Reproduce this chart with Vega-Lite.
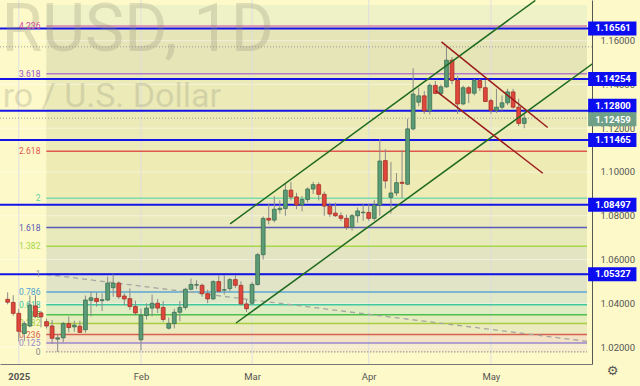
{
  "$schema": "https://vega.github.io/schema/vega-lite/v6.json",
  "width": 592,
  "height": 364,
  "autosize": {"type": "none"},
  "padding": {"left": 0, "top": 0, "right": 48, "bottom": 22},
  "background": "#fdf9c9",
  "config": {"view": {"stroke": null}, "font": "Roboto", "axis": {"grid": false, "ticks": false}},
  "datasets": {
    "candles": [
      {"d": "2024-12-30", "i": -2, "o": 1.0418, "h": 1.0450, "l": 1.0395, "c": 1.0405},
      {"d": "2024-12-31", "i": -1, "o": 1.0404, "h": 1.0437, "l": 1.0343, "c": 1.0354},
      {"d": "2025-01-02", "i": 0, "o": 1.0354, "h": 1.0375, "l": 1.0226, "c": 1.0272},
      {"d": "2025-01-03", "i": 1, "o": 1.0262, "h": 1.0318, "l": 1.0227, "c": 1.0307},
      {"d": "2025-01-06", "i": 2, "o": 1.0296, "h": 1.0436, "l": 1.0290, "c": 1.0392},
      {"d": "2025-01-07", "i": 3, "o": 1.0388, "h": 1.0437, "l": 1.0332, "c": 1.0340},
      {"d": "2025-01-08", "i": 4, "o": 1.0356, "h": 1.0365, "l": 1.0290, "c": 1.0338},
      {"d": "2025-01-09", "i": 5, "o": 1.0316, "h": 1.0330, "l": 1.0285, "c": 1.0296},
      {"d": "2025-01-10", "i": 6, "o": 1.0296, "h": 1.0324, "l": 1.0214, "c": 1.0240},
      {"d": "2025-01-13", "i": 7, "o": 1.0236, "h": 1.0259, "l": 1.0178, "c": 1.0242},
      {"d": "2025-01-14", "i": 8, "o": 1.0242, "h": 1.0315, "l": 1.0221, "c": 1.0307},
      {"d": "2025-01-15", "i": 9, "o": 1.0307, "h": 1.0340, "l": 1.0267, "c": 1.0289},
      {"d": "2025-01-16", "i": 10, "o": 1.0292, "h": 1.0320, "l": 1.0270, "c": 1.0300},
      {"d": "2025-01-17", "i": 11, "o": 1.0295, "h": 1.0320, "l": 1.0265, "c": 1.0267},
      {"d": "2025-01-20", "i": 12, "o": 1.0279, "h": 1.0435, "l": 1.0265, "c": 1.0415},
      {"d": "2025-01-21", "i": 13, "o": 1.0413, "h": 1.0456, "l": 1.0340, "c": 1.0425},
      {"d": "2025-01-22", "i": 14, "o": 1.0422, "h": 1.0450, "l": 1.0385, "c": 1.0408},
      {"d": "2025-01-23", "i": 15, "o": 1.0412, "h": 1.0445, "l": 1.0365, "c": 1.0416},
      {"d": "2025-01-24", "i": 16, "o": 1.0415, "h": 1.0522, "l": 1.0410, "c": 1.0492},
      {"d": "2025-01-27", "i": 17, "o": 1.0471, "h": 1.0532, "l": 1.0430, "c": 1.0492},
      {"d": "2025-01-28", "i": 18, "o": 1.0492, "h": 1.0500, "l": 1.0420, "c": 1.0430},
      {"d": "2025-01-29", "i": 19, "o": 1.0433, "h": 1.0445, "l": 1.0390, "c": 1.0420},
      {"d": "2025-01-30", "i": 20, "o": 1.0421, "h": 1.0468, "l": 1.0370, "c": 1.0385},
      {"d": "2025-01-31", "i": 21, "o": 1.0385, "h": 1.0412, "l": 1.0345, "c": 1.0356},
      {"d": "2025-02-03", "i": 22, "o": 1.0233, "h": 1.0375, "l": 1.0185, "c": 1.0345},
      {"d": "2025-02-04", "i": 23, "o": 1.0344, "h": 1.0400, "l": 1.0325, "c": 1.0378},
      {"d": "2025-02-05", "i": 24, "o": 1.0378, "h": 1.0440, "l": 1.0340, "c": 1.0400},
      {"d": "2025-02-06", "i": 25, "o": 1.0400, "h": 1.0420, "l": 1.0355, "c": 1.0378},
      {"d": "2025-02-07", "i": 26, "o": 1.0381, "h": 1.0410, "l": 1.0315, "c": 1.0326},
      {"d": "2025-02-10", "i": 27, "o": 1.0286, "h": 1.0335, "l": 1.0280, "c": 1.0308},
      {"d": "2025-02-11", "i": 28, "o": 1.0307, "h": 1.0375, "l": 1.0285, "c": 1.0359},
      {"d": "2025-02-12", "i": 29, "o": 1.0359, "h": 1.0410, "l": 1.0318, "c": 1.0381},
      {"d": "2025-02-13", "i": 30, "o": 1.0381, "h": 1.0470, "l": 1.0370, "c": 1.0464},
      {"d": "2025-02-14", "i": 31, "o": 1.0464, "h": 1.0513, "l": 1.0460, "c": 1.0486},
      {"d": "2025-02-17", "i": 32, "o": 1.0483, "h": 1.0505, "l": 1.0465, "c": 1.0485},
      {"d": "2025-02-18", "i": 33, "o": 1.0482, "h": 1.0490, "l": 1.0430, "c": 1.0444},
      {"d": "2025-02-19", "i": 34, "o": 1.0444, "h": 1.0462, "l": 1.0400, "c": 1.0420},
      {"d": "2025-02-20", "i": 35, "o": 1.0420, "h": 1.0505, "l": 1.0415, "c": 1.0499},
      {"d": "2025-02-21", "i": 36, "o": 1.0499, "h": 1.0528, "l": 1.0450, "c": 1.0455},
      {"d": "2025-02-24", "i": 37, "o": 1.0460, "h": 1.0528, "l": 1.0440, "c": 1.0462},
      {"d": "2025-02-25", "i": 38, "o": 1.0467, "h": 1.0515, "l": 1.0455, "c": 1.0508},
      {"d": "2025-02-26", "i": 39, "o": 1.0508, "h": 1.0528, "l": 1.0470, "c": 1.0482},
      {"d": "2025-02-27", "i": 40, "o": 1.0482, "h": 1.0500, "l": 1.0390, "c": 1.0397},
      {"d": "2025-02-28", "i": 41, "o": 1.0397, "h": 1.0418, "l": 1.0360, "c": 1.0375},
      {"d": "2025-03-03", "i": 42, "o": 1.0400, "h": 1.0498, "l": 1.0392, "c": 1.0486},
      {"d": "2025-03-04", "i": 43, "o": 1.0486, "h": 1.0630, "l": 1.0481, "c": 1.0622},
      {"d": "2025-03-05", "i": 44, "o": 1.0622, "h": 1.0797, "l": 1.0600, "c": 1.0788},
      {"d": "2025-03-06", "i": 45, "o": 1.0788, "h": 1.0854, "l": 1.0761, "c": 1.0780},
      {"d": "2025-03-07", "i": 46, "o": 1.0780, "h": 1.0889, "l": 1.0770, "c": 1.0830},
      {"d": "2025-03-10", "i": 47, "o": 1.0828, "h": 1.0870, "l": 1.0810, "c": 1.0834},
      {"d": "2025-03-11", "i": 48, "o": 1.0833, "h": 1.0947, "l": 1.0800, "c": 1.0917},
      {"d": "2025-03-12", "i": 49, "o": 1.0917, "h": 1.0955, "l": 1.0870, "c": 1.0886},
      {"d": "2025-03-13", "i": 50, "o": 1.0886, "h": 1.0905, "l": 1.0830, "c": 1.0849},
      {"d": "2025-03-14", "i": 51, "o": 1.0849, "h": 1.0890, "l": 1.0820, "c": 1.0874},
      {"d": "2025-03-17", "i": 52, "o": 1.0874, "h": 1.0930, "l": 1.0860, "c": 1.0922},
      {"d": "2025-03-18", "i": 53, "o": 1.0922, "h": 1.0955, "l": 1.0900, "c": 1.0942},
      {"d": "2025-03-19", "i": 54, "o": 1.0942, "h": 1.0953, "l": 1.0870, "c": 1.0898},
      {"d": "2025-03-20", "i": 55, "o": 1.0898, "h": 1.0910, "l": 1.0800, "c": 1.0844},
      {"d": "2025-03-21", "i": 56, "o": 1.0844, "h": 1.0860, "l": 1.0795, "c": 1.0808},
      {"d": "2025-03-24", "i": 57, "o": 1.0812, "h": 1.0860, "l": 1.0795, "c": 1.0800},
      {"d": "2025-03-25", "i": 58, "o": 1.0800, "h": 1.0815, "l": 1.0775, "c": 1.0788},
      {"d": "2025-03-26", "i": 59, "o": 1.0788, "h": 1.0805, "l": 1.0735, "c": 1.0748},
      {"d": "2025-03-27", "i": 60, "o": 1.0748, "h": 1.0808, "l": 1.0732, "c": 1.0800},
      {"d": "2025-03-28", "i": 61, "o": 1.0800, "h": 1.0838, "l": 1.0768, "c": 1.0822},
      {"d": "2025-03-31", "i": 62, "o": 1.0814, "h": 1.0852, "l": 1.0777, "c": 1.0816},
      {"d": "2025-04-01", "i": 63, "o": 1.0815, "h": 1.0856, "l": 1.0777, "c": 1.0788},
      {"d": "2025-04-02", "i": 64, "o": 1.0788, "h": 1.0871, "l": 1.0777, "c": 1.0849},
      {"d": "2025-04-03", "i": 65, "o": 1.0849, "h": 1.1150, "l": 1.0800, "c": 1.1050},
      {"d": "2025-04-04", "i": 66, "o": 1.1052, "h": 1.1104, "l": 1.0925, "c": 1.0959},
      {"d": "2025-04-07", "i": 67, "o": 1.0884, "h": 1.1046, "l": 1.0810, "c": 1.0904},
      {"d": "2025-04-08", "i": 68, "o": 1.0904, "h": 1.0995, "l": 1.0890, "c": 1.0951},
      {"d": "2025-04-09", "i": 69, "o": 1.0953, "h": 1.1100, "l": 1.0880, "c": 1.0948},
      {"d": "2025-04-10", "i": 70, "o": 1.0944, "h": 1.1243, "l": 1.0940, "c": 1.1197},
      {"d": "2025-04-11", "i": 71, "o": 1.1197, "h": 1.1474, "l": 1.1190, "c": 1.1356},
      {"d": "2025-04-14", "i": 72, "o": 1.1319, "h": 1.1385, "l": 1.1300, "c": 1.1348},
      {"d": "2025-04-15", "i": 73, "o": 1.1348, "h": 1.1370, "l": 1.1265, "c": 1.1279},
      {"d": "2025-04-16", "i": 74, "o": 1.1279, "h": 1.1405, "l": 1.1263, "c": 1.1396},
      {"d": "2025-04-17", "i": 75, "o": 1.1396, "h": 1.1416, "l": 1.1355, "c": 1.1359},
      {"d": "2025-04-18", "i": 76, "o": 1.1359, "h": 1.1400, "l": 1.1350, "c": 1.1389},
      {"d": "2025-04-21", "i": 77, "o": 1.1389, "h": 1.1573, "l": 1.1385, "c": 1.1511},
      {"d": "2025-04-22", "i": 78, "o": 1.1511, "h": 1.1525, "l": 1.1400, "c": 1.1418},
      {"d": "2025-04-23", "i": 79, "o": 1.1418, "h": 1.1440, "l": 1.1265, "c": 1.1311},
      {"d": "2025-04-24", "i": 80, "o": 1.1311, "h": 1.1395, "l": 1.1305, "c": 1.1385},
      {"d": "2025-04-25", "i": 81, "o": 1.1385, "h": 1.1393, "l": 1.1315, "c": 1.1360},
      {"d": "2025-04-28", "i": 82, "o": 1.1360, "h": 1.1425, "l": 1.1350, "c": 1.1418},
      {"d": "2025-04-29", "i": 83, "o": 1.1418, "h": 1.1425, "l": 1.1370, "c": 1.1385},
      {"d": "2025-04-30", "i": 84, "o": 1.1385, "h": 1.1420, "l": 1.1320, "c": 1.1322},
      {"d": "2025-05-01", "i": 85, "o": 1.1326, "h": 1.1335, "l": 1.1265, "c": 1.1282},
      {"d": "2025-05-02", "i": 86, "o": 1.1282, "h": 1.1380, "l": 1.1270, "c": 1.1296},
      {"d": "2025-05-05", "i": 87, "o": 1.1296, "h": 1.1350, "l": 1.1280, "c": 1.1316},
      {"d": "2025-05-06", "i": 88, "o": 1.1316, "h": 1.1380, "l": 1.1305, "c": 1.1366},
      {"d": "2025-05-07", "i": 89, "o": 1.1366, "h": 1.1380, "l": 1.1290, "c": 1.1296},
      {"d": "2025-05-08", "i": 90, "o": 1.1296, "h": 1.1335, "l": 1.1210, "c": 1.1222},
      {"d": "2025-05-09", "i": 91, "o": 1.1222, "h": 1.1265, "l": 1.1200, "c": 1.1246}
    ],
    "bands": [
      {"band": "b0", "lo": 1.0178, "hi": 1.0218},
      {"band": "b1", "lo": 1.0218, "hi": 1.0257},
      {"band": "b2", "lo": 1.0257, "hi": 1.0308},
      {"band": "b3", "lo": 1.0308, "hi": 1.0348},
      {"band": "b4", "lo": 1.0348, "hi": 1.0393},
      {"band": "b5", "lo": 1.0393, "hi": 1.0452},
      {"band": "b6", "lo": 1.0452, "hi": 1.0534},
      {"band": "b7", "lo": 1.0534, "hi": 1.0661},
      {"band": "b8", "lo": 1.0661, "hi": 1.0746},
      {"band": "b9", "lo": 1.0746, "hi": 1.0880},
      {"band": "b10", "lo": 1.0880, "hi": 1.1095},
      {"band": "b11", "lo": 1.1095, "hi": 1.1449},
      {"band": "b12", "lo": 1.1449, "hi": 1.1667},
      {"band": "b13", "lo": 1.1667, "hi": 1.1763}
    ],
    "fib": [
      {"level": "4.236", "p": 1.1667},
      {"level": "3.618", "p": 1.1449},
      {"level": "2.618", "p": 1.1095},
      {"level": "2", "p": 1.0880},
      {"level": "1.618", "p": 1.0746},
      {"level": "1.382", "p": 1.0661},
      {"level": "1", "p": 1.0534},
      {"level": "0.786", "p": 1.0452},
      {"level": "0.618", "p": 1.0393},
      {"level": "0.5", "p": 1.0348},
      {"level": "0.382", "p": 1.0308},
      {"level": "0.236", "p": 1.0257},
      {"level": "0.125", "p": 1.0218},
      {"level": "0", "p": 1.0178}
    ],
    "gridY": [{"p": 1.02}, {"p": 1.04}, {"p": 1.06}, {"p": 1.08}, {"p": 1.10}, {"p": 1.12}, {"p": 1.14}, {"p": 1.16}],
    "gridX": [{"i": 0}, {"i": 22}, {"i": 42}, {"i": 63}, {"i": 85}],
    "levels": [{"p": 1.16561}, {"p": 1.14254}, {"p": 1.128}, {"p": 1.11465}, {"p": 1.08497}, {"p": 1.05327}],
    "dotted": [{"p": 1.1572}, {"p": 1.12459}],
    "current": [{"p": 1.12459}],
    "channels": [
      {"name": "g1", "i": 38.05, "p": 1.0763},
      {"name": "g1", "i": 93, "p": 1.1784},
      {"name": "g2", "i": 39.12, "p": 1.03098},
      {"name": "g2", "i": 104, "p": 1.15075},
      {"name": "r1", "i": 76.1, "p": 1.15942},
      {"name": "r1", "i": 95.22, "p": 1.12031},
      {"name": "r2", "i": 75.04, "p": 1.1372},
      {"name": "r2", "i": 94.34, "p": 1.09942}
    ],
    "trend": [
      {"i": 4.96, "p": 1.0532},
      {"i": 102.3, "p": 1.0226}
    ]
  },
  "layer": [
    {
      "data": {"name": "bands"},
      "mark": {"type": "rect"},
      "encoding": {
        "x": {"datum": 4.96, "type": "quantitative", "title": null, "scale": {"domain": [-2.48, 102.3], "nice": false, "zero": false}},
        "x2": {"datum": 102.3},
        "y": {"field": "lo", "type": "quantitative", "title": null, "scale": {"domain": [1.01453, 1.17631], "nice": false, "zero": false}},
        "y2": {"field": "hi"},
        "color": {"field": "band", "type": "nominal", "legend": null,
          "scale": {"domain": ["b0","b1","b2","b3","b4","b5","b6","b7","b8","b9","b10","b11","b12","b13"],
                    "range": ["#f6ebcb","#f3e2c5","#ecebc0","#e5edbc","#e0ecc2","#dfe8c7","#e1e4c6","#e3e4c2","#e8eabb","#eae9bd","#eeebb4","#ecebb8","#e6e5b8","#eff1c6"]}}
      }
    },
    {
      "data": {"name": "gridY"},
      "mark": {"type": "rule", "color": "#ffffff", "opacity": 0.45, "strokeWidth": 1},
      "encoding": {
        "y": {"field": "p", "type": "quantitative", "title": null,
          "axis": {"orient": "right", "values": [1.02, 1.04, 1.06, 1.08, 1.10, 1.12, 1.14, 1.16], "format": ".5f", "grid": false, "ticks": false, "domain": true, "domainColor": "#555555", "labelColor": "#555555", "labelFontSize": 9.5, "labelPadding": 8, "labelFont": "Roboto", "labelFlush": false}}
      }
    },
    {
      "data": {"name": "gridX"},
      "mark": {"type": "rule", "color": "#dcdde6", "opacity": 0.9, "strokeWidth": 1},
      "encoding": {
        "x": {"field": "i", "type": "quantitative", "title": null,
          "axis": {"orient": "bottom", "values": [0, 22, 42, 63, 85], "labelExpr": "datum.value == 0 ? '2025' : datum.value == 22 ? 'Feb' : datum.value == 42 ? 'Mar' : datum.value == 63 ? 'Apr' : 'May'", "grid": false, "ticks": false, "domain": true, "domainColor": "#777777", "labelColor": "#555555", "labelFontSize": 9.5, "labelPadding": 7, "labelFlush": false, "labelFont": "Roboto", "labelFontWeight": {"condition": {"test": "datum.value == 0", "value": "bold"}, "value": "normal"}}}
      }
    },
    {
      "data": {"name": "fib"},
      "transform": [{"filter": "datum.level != '0'"}],
      "mark": {"type": "rule", "strokeWidth": 1.5},
      "encoding": {
        "x": {"datum": 4.96, "type": "quantitative", "title": null},
        "x2": {"datum": 102.3},
        "y": {"field": "p", "type": "quantitative", "title": null},
        "color": {"field": "level", "type": "nominal", "legend": null,
          "scale": {"domain": ["4.236","3.618","2.618","2","1.618","1.382","1","0.786","0.618","0.5","0.382","0.236","0.125","0"],
                    "range": ["#d77fb4","#b27cc4","#e0584c","#79dcaa","#5a5ab8","#a6d64a","#999999","#5aa8d2","#40c8a0","#4cc04c","#a8cc40","#d8604e","#9a88cc","#888888"]}}
      }
    },
    {
      "data": {"name": "fib"},
      "transform": [{"filter": "datum.level == '0'"}],
      "mark": {"type": "rule", "strokeWidth": 1.2, "strokeDash": [1, 2], "color": "#777777"},
      "encoding": {
        "x": {"datum": 4.96, "type": "quantitative", "title": null},
        "x2": {"datum": 102.3},
        "y": {"field": "p", "type": "quantitative", "title": null}
      }
    },
    {
      "data": {"name": "trend"},
      "mark": {"type": "line", "color": "#a6a6a0", "strokeWidth": 1.3, "strokeDash": [5, 4]},
      "encoding": {
        "x": {"field": "i", "type": "quantitative", "title": null},
        "y": {"field": "p", "type": "quantitative", "title": null}
      }
    },
    {
      "data": {"name": "dotted"},
      "mark": {"type": "rule", "color": "#9a9a9a", "strokeWidth": 1, "strokeDash": [1, 2]},
      "encoding": {
        "y": {"field": "p", "type": "quantitative", "title": null}
      }
    },
    {
      "data": {"name": "levels"},
      "mark": {"type": "rule", "color": "#1414e6", "strokeWidth": 2},
      "encoding": {
        "y": {"field": "p", "type": "quantitative", "title": null}
      }
    },
    {
      "data": {"values": [{"t": "RUSD, 1D", "p": 1.1554}]},
      "mark": {"type": "text", "align": "left", "baseline": "alphabetic", "fontSize": 66, "font": "Roboto", "color": "#8f8f78", "opacity": 0.26},
      "encoding": {
        "x": {"datum": -3.1, "type": "quantitative", "title": null},
        "y": {"field": "p", "type": "quantitative", "title": null},
        "text": {"field": "t"}
      }
    },
    {
      "data": {"values": [{"t": "ro / U.S. Dollar", "p": 1.1296}]},
      "mark": {"type": "text", "align": "left", "baseline": "alphabetic", "fontSize": 34, "font": "Roboto", "color": "#8f8f78", "opacity": 0.26},
      "encoding": {
        "x": {"datum": -2.9, "type": "quantitative", "title": null},
        "y": {"field": "p", "type": "quantitative", "title": null},
        "text": {"field": "t"}
      }
    },
    {
      "data": {"name": "fib"},
      "mark": {"type": "text", "align": "right", "baseline": "middle", "fontSize": 8.5, "font": "Roboto"},
      "encoding": {
        "x": {"datum": 3.9, "type": "quantitative", "title": null},
        "y": {"field": "p", "type": "quantitative", "title": null},
        "text": {"field": "level"},
        "color": {"field": "level", "type": "nominal", "legend": null,
          "scale": {"domain": ["4.236","3.618","2.618","2","1.618","1.382","1","0.786","0.618","0.5","0.382","0.236","0.125","0"],
                    "range": ["#d24aa2","#9b4fc5","#e0584c","#5fd09c","#5a5ab8","#a6d64a","#999999","#4ea2d0","#3cc49c","#4cc04c","#a8cc40","#d8604e","#9a88cc","#888888"]}}
      }
    },
    {
      "data": {"name": "candles"},
      "mark": {"type": "rule", "color": "#8a8a8a", "strokeWidth": 1},
      "encoding": {
        "x": {"field": "i", "type": "quantitative", "title": null},
        "y": {"field": "l", "type": "quantitative", "title": null},
        "y2": {"field": "h"}
      }
    },
    {
      "data": {"name": "candles"},
      "mark": {"type": "bar", "width": 3.8, "strokeWidth": 0.8, "orient": "vertical"},
      "encoding": {
        "x": {"field": "i", "type": "quantitative", "title": null},
        "y": {"field": "o", "type": "quantitative", "title": null},
        "y2": {"field": "c"},
        "color": {"condition": {"test": "datum.c >= datum.o", "value": "#5b9c77"}, "value": "#e0473c"},
        "stroke": {"condition": {"test": "datum.c >= datum.o", "value": "#3b6e50"}, "value": "#a33026"}
      }
    },
    {
      "data": {"name": "channels"},
      "mark": {"type": "line", "strokeWidth": 1.5, "clip": true},
      "encoding": {
        "x": {"field": "i", "type": "quantitative", "title": null},
        "y": {"field": "p", "type": "quantitative", "title": null},
        "detail": {"field": "name"},
        "color": {"field": "name", "type": "nominal", "legend": null,
          "scale": {"domain": ["g1", "g2", "r1", "r2"], "range": ["#1f6a1f", "#1f6a1f", "#9a1c1c", "#9a1c1c"]}}
      }
    },
    {
      "data": {"name": "levels"},
      "transform": [{"filter": "datum.p != 1.128"}],
      "mark": {"type": "bar", "orient": "horizontal", "height": 14, "color": "#0c0cf0"},
      "encoding": {
        "x": {"datum": 102.5, "type": "quantitative", "title": null},
        "x2": {"datum": 111.2},
        "y": {"field": "p", "type": "quantitative", "title": null}
      }
    },
    {
      "data": {"name": "levels"},
      "transform": [{"filter": "datum.p == 1.128"}],
      "mark": {"type": "bar", "orient": "horizontal", "height": 14, "color": "#0c0cf0", "yOffset": -5},
      "encoding": {
        "x": {"datum": 102.5, "type": "quantitative", "title": null},
        "x2": {"datum": 111.2},
        "y": {"field": "p", "type": "quantitative", "title": null}
      }
    },
    {
      "data": {"name": "current"},
      "mark": {"type": "bar", "orient": "horizontal", "height": 14, "color": "#6f9f86", "yOffset": 1},
      "encoding": {
        "x": {"datum": 102.5, "type": "quantitative", "title": null},
        "x2": {"datum": 111.2},
        "y": {"field": "p", "type": "quantitative", "title": null}
      }
    },
    {
      "data": {"name": "levels"},
      "transform": [{"filter": "datum.p != 1.128"}],
      "mark": {"type": "text", "align": "left", "baseline": "middle", "fontSize": 9.5, "fontWeight": "bold", "color": "#ffffff", "font": "Roboto"},
      "encoding": {
        "x": {"datum": 103.8, "type": "quantitative", "title": null},
        "y": {"field": "p", "type": "quantitative", "title": null},
        "text": {"field": "p", "format": ".5f"}
      }
    },
    {
      "data": {"name": "levels"},
      "transform": [{"filter": "datum.p == 1.128"}],
      "mark": {"type": "text", "align": "left", "baseline": "middle", "fontSize": 9.5, "fontWeight": "bold", "color": "#ffffff", "font": "Roboto", "yOffset": -5},
      "encoding": {
        "x": {"datum": 103.8, "type": "quantitative", "title": null},
        "y": {"field": "p", "type": "quantitative", "title": null},
        "text": {"field": "p", "format": ".5f"}
      }
    },
    {
      "data": {"name": "current"},
      "mark": {"type": "text", "align": "left", "baseline": "middle", "fontSize": 9.5, "fontWeight": "bold", "color": "#ffffff", "font": "Roboto", "yOffset": 2},
      "encoding": {
        "x": {"datum": 103.8, "type": "quantitative", "title": null},
        "y": {"field": "p", "type": "quantitative", "title": null},
        "text": {"field": "p", "format": ".5f"}
      }
    },
    {
      "data": {"values": [{"t": "⚙"}]},
      "mark": {"type": "text", "align": "center", "baseline": "middle", "fontSize": 13, "font": "DejaVu Sans", "color": "#555555"},
      "encoding": {
        "x": {"datum": 106.9, "type": "quantitative", "title": null},
        "y": {"datum": 1.0092, "type": "quantitative", "title": null},
        "text": {"field": "t"}
      }
    }
  ],
  "resolve": {"scale": {"color": "independent"}}
}
